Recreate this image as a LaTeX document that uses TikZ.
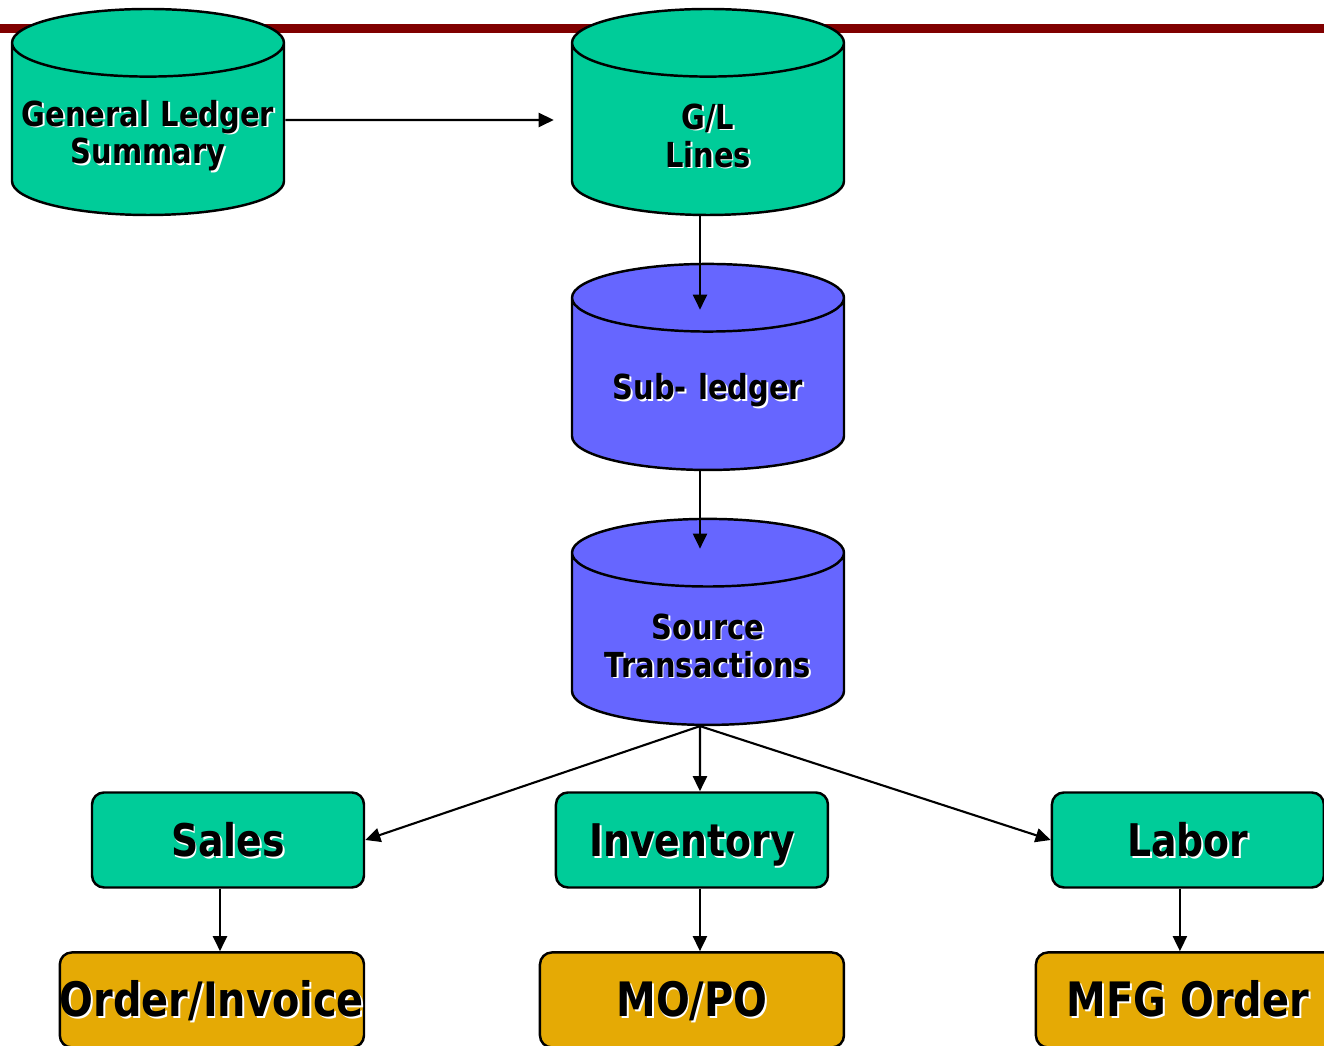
\documentclass[tikz,border=0pt]{standalone}
\usepackage{fontspec}
\setmainfont{DejaVu Sans}[FakeStretch=0.84]
\usetikzlibrary{shapes,arrows.meta,positioning}

\definecolor{dbgreen}{HTML}{00CC99}
\definecolor{dbblue}{HTML}{6666FF}
\definecolor{docgold}{HTML}{E5AA05}
\definecolor{barred}{HTML}{800000}

% white drop shadow behind the bold labels
\newcommand{\shd}[1]{\leavevmode\rlap{\kern0.5pt\raisebox{-0.5pt}{\color{white}#1}}#1}
% same, set a little lower (cylinder labels)
\newcommand{\dbl}[1]{\raisebox{-2pt}[\height][\depth]{\shd{#1}}}

\begin{document}
\begin{tikzpicture}[
    node distance=1cm,
    db/.style={cylinder, shape border rotate=90, aspect=0.26, draw, line width=0.7pt, minimum width=2.72cm, minimum height=2.06cm, inner sep=0pt, text width=2.6cm, align=center, font=\bfseries\fontsize{9.8}{10.8}\selectfont},
    box/.style={rectangle, rounded corners=0.12cm, draw, line width=0.7pt, fill=dbgreen, minimum width=2.72cm, minimum height=0.95cm, inner sep=0pt, text height=9.3pt, text depth=0pt, font=\bfseries\fontsize{12.8}{14}\selectfont},
    doc/.style={box, fill=docgold, minimum width=3.04cm, font=\bfseries\fontsize{13.5}{15}\selectfont},
    arrow/.style={-{Triangle[length=4.3pt,width=4pt]}, line width=0.6pt}
]

\useasboundingbox (0,0) rectangle (13.24,-10.46);

% title bar
\fill[barred] (0,-0.24) rectangle (13.24,-0.33);

% Ledgers
\node[db, fill=dbgreen, anchor=shape center] (gls) at (1.48,-1.12) {\dbl{General Ledger}\\\dbl{Summary}};
\node[db, fill=dbgreen, right=2.855cm of gls] (gll) {\dbl{G/L}\\\dbl{Lines}};
\node[db, fill=dbblue, below=0.465cm of gll] (sub) {\dbl{Sub- ledger}};
\node[db, fill=dbblue, below=0.465cm of sub] (src) {\dbl{Source}\\\dbl{Transactions}};

% Modules
\node[box] (sales) at (2.28,-8.40) {\shd{Sales}};
\node[box, right=1.895cm of sales] (inv) {\shd{Inventory}};
\node[box, right=2.215cm of inv] (labor) {\shd{Labor}};

% Documents
\node[doc, below=0.625cm of sales.south east, anchor=north east] (ord) {\shd{Order/Invoice}};
\node[doc, below=0.625cm of inv] (mopo) {\shd{MO/PO}};
\node[doc, below=0.625cm of labor] (mfg) {\shd{MFG Order}};

% Arrows
\draw[arrow] ([yshift=-0.08cm]gls.shape center -| gls.east) -- ([xshift=-0.17cm,yshift=-0.08cm]gll.shape center -| gll.west);
\draw[arrow] ([xshift=-0.08cm]gll.south) -- ([xshift=-0.08cm,yshift=-0.47cm]sub.north);
\draw[arrow] ([xshift=-0.08cm]sub.south) -- ([xshift=-0.08cm,yshift=-0.31cm]src.north);
\draw[arrow] ([xshift=-0.08cm]src.south) -- (sales.east);
\draw[arrow] ([xshift=-0.08cm]src.south) -- ([xshift=0.08cm]inv.north);
\draw[arrow] ([xshift=-0.08cm]src.south) -- (labor.west);
\draw[arrow] ([xshift=-0.08cm]sales.south) -- ([xshift=-0.08cm]sales.south |- ord.north);
\draw[arrow] ([xshift=0.08cm]inv.south) -- ([xshift=0.08cm]inv.south |- mopo.north);
\draw[arrow] ([xshift=-0.08cm]labor.south) -- ([xshift=-0.08cm]labor.south |- mfg.north);

\end{tikzpicture}
\end{document}
